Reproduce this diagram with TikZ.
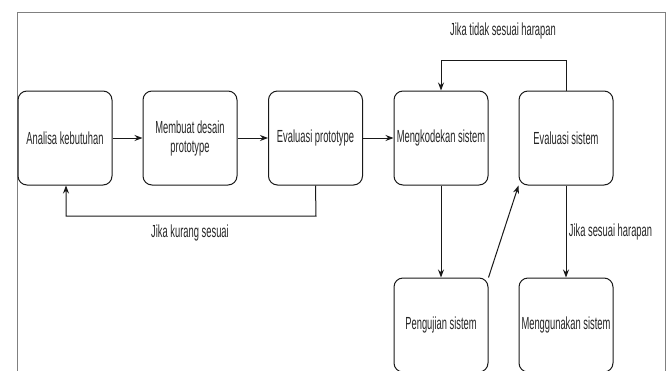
\documentclass[tikz,border=0pt]{standalone}
\usepackage{fontspec}
\setmainfont{Liberation Sans}[FakeStretch=0.535]
\usepackage{tikz}
\usetikzlibrary{arrows.meta, positioning}

\begin{document}
\begin{tikzpicture}[
  x=1pt, y=-1pt,
  stepbox/.style={draw, rectangle, rounded corners=9pt, line width=1pt, draw=black!90,
    minimum height=94pt, minimum width=94pt, inner sep=1pt, align=center,
    font=\fontsize{17.5}{19}\selectfont, text=black!85},
  lbl/.style={font=\fontsize{17.5}{19}\selectfont, text=black!85},
  arrow/.style={-{Stealth[length=8pt, width=6pt]}, line width=1pt, draw=black!90}
]
\useasboundingbox (0,0) rectangle (672,370);
\clip (0,0) rectangle (672,370);

% outer frame
\draw[black!50, line width=1pt] (17,12) rectangle (665,400);

% Top row: prototyping
\node[stepbox] (analisa) at (65,138) {Analisa kebutuhan};
\node[stepbox] (desain) at (190,138) {Membuat desain\\prototype};
\node[stepbox] (evalproto) at (315.5,138) {Evaluasi prototype};
\node[stepbox] (kode) at (441,138) {Mengkodekan sistem};
\node[stepbox] (evalsis) at (566,138) {Evaluasi sistem};

% Bottom row
\node[stepbox] (uji) at (441,325) {Pengujian sistem};
\node[stepbox] (guna) at (566,325) {Menggunakan sistem};

\draw[arrow] (analisa) -- (desain);
\draw[arrow] (desain) -- (evalproto);
\draw[arrow] (evalproto) -- (kode);

% loop back: Jika kurang sesuai
\coordinate (kurangR) at (316,216);
\coordinate (kurangL) at (66,216);
\draw[arrow] (evalproto.south) -- (kurangR) -- (kurangL) -- (analisa.south -| kurangL);
\node[lbl] (kurang) at (190,233) {Jika kurang sesuai};

% loop back: Jika tidak sesuai harapan
\coordinate (tidakR) at (566,60);
\coordinate (tidakL) at (441,60);
\draw[arrow] (evalsis.north) -- (tidakR) -- (tidakL) -- (kode.north);
\node[lbl] (tidak) at (503,31) {Jika tidak sesuai harapan};

\draw[arrow] (kode) -- (uji);
\draw[arrow] (uji.north east) -- (evalsis.south west);
\draw[arrow] (evalsis) -- node[lbl, right, xshift=-1pt] (sesuai) {Jika sesuai harapan} (guna);

\end{tikzpicture}
\end{document}
